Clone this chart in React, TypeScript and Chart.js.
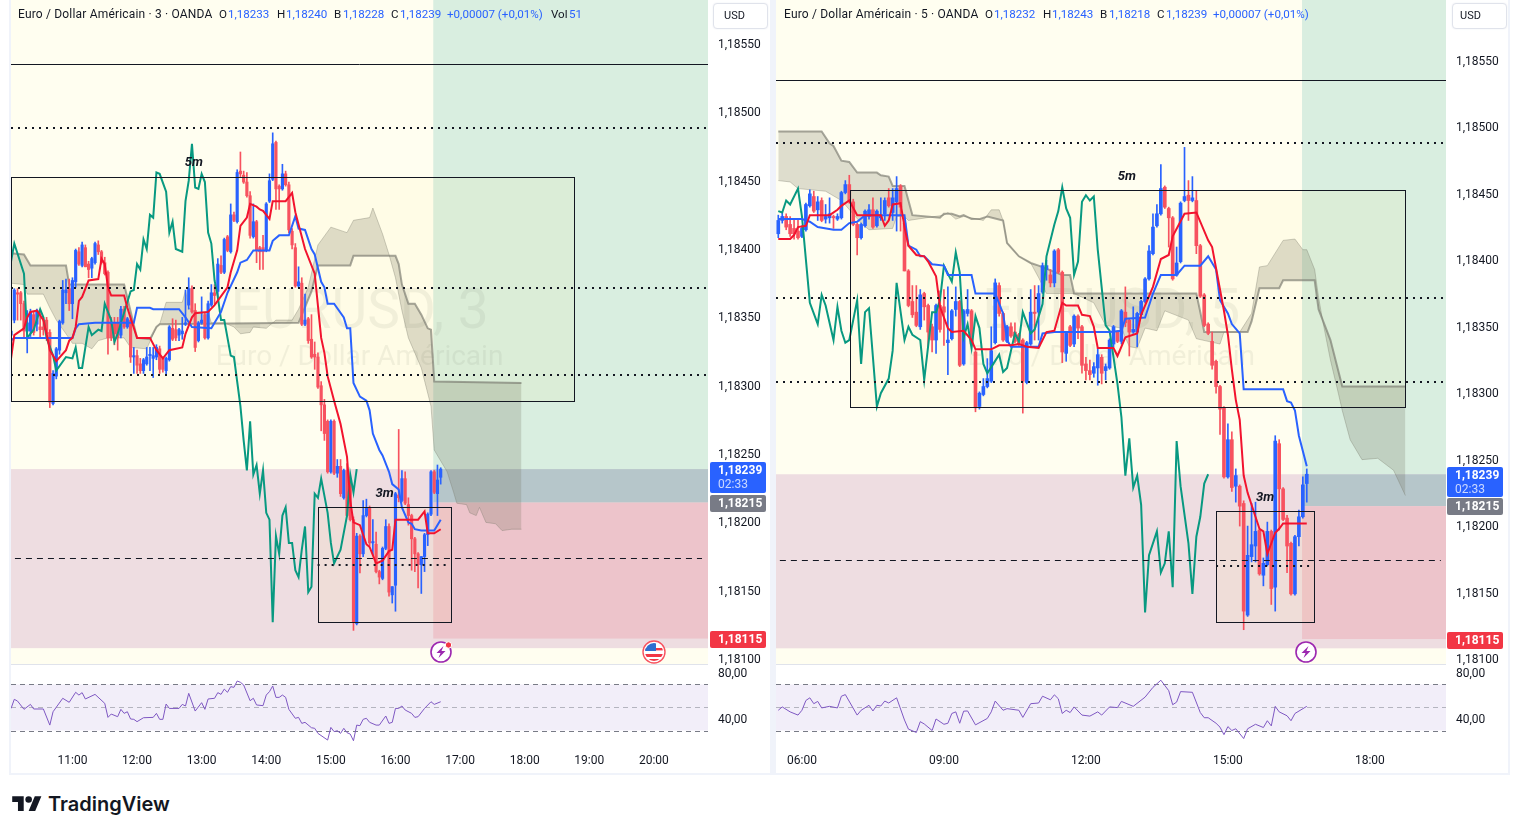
import React, { useEffect, useRef } from "react";
import { Chart, registerables } from "chart.js";

Chart.register(...registerables);

// All prices are in units of 0.00001 above 1,18000 (so 239 means 1,18239).
const leftPriceTicks = [550, 500, 450, 400, 350, 300, 250, 200, 150, 100];
const rightPriceTicks = [550, 500, 450, 400, 350, 300, 250, 200, 150, 100];
const rsiTicks = [80, 40];
const leftTimeTicks = [19, 39, 59, 79, 99, 119, 139, 159, 179, 199];
const leftTimeLabels = ["11:00", "12:00", "13:00", "14:00", "15:00", "16:00", "17:00", "18:00", "19:00", "20:00"];
const rightTimeTicks = [6, 42, 78, 114, 150];
const rightTimeLabels = ["06:00", "09:00", "12:00", "15:00", "18:00"];

// [open, high, low, close], one per 3-minute bar
const leftCandles = [
[337,355,335,340],[348,371,346,370],[368,371,348,367],[368,369,348,360],[360,362,335,340],[340,355,324,346],[340,356,336,354],[352,354,337,339],[345,356,340,355],[343,355,335,341],
[343,350,337,341],[348,350,333,338],[339,341,284,288],[287,311,286,309],[307,328,305,327],[326,348,323,347],[346,377,345,370],[368,378,360,370],[371,378,355,360],[360,379,349,377],
[376,400,372,399],[398,401,388,389],[388,405,387,403],[401,403,387,387],[389,391,379,385],[386,394,379,393],[390,405,389,404],[403,406,396,398],[398,399,389,390],[390,394,381,382],
[383,384,323,335],[346,350,333,335],[346,350,330,338],[346,350,326,335],[337,358,335,356],[356,358,342,343],[343,350,342,349],[348,349,317,321],[321,328,309,322],[322,326,309,315],
[316,320,309,311],[311,320,309,319],[316,328,315,321],[322,328,311,323],[320,328,306,322],[321,330,319,328],[327,329,309,312],[320,321,310,312],[311,321,308,320],[319,344,318,343],
[342,349,333,334],[341,348,333,335],[337,342,333,341],[338,350,334,340],[345,370,344,346],[359,379,356,371],[371,373,353,354],[355,360,325,328],[333,347,332,346],[346,365,345,348],
[352,353,334,335],[335,362,334,360],[359,374,358,368],[368,374,360,366],[369,393,365,389],[388,395,382,383],[383,408,382,407],[409,410,398,399],[398,433,397,425],[425,427,420,421],
[420,458,419,456],[457,471,453,455],[454,457,448,449],[449,456,438,439],[439,442,408,410],[409,433,408,420],[420,421,390,399],[401,402,385,398],[401,410,385,398],[399,434,398,433],
[435,455,434,450],[451,485,450,477],[478,479,429,444],[446,447,429,444],[444,462,443,455],[455,457,446,447],[447,449,412,414],[413,415,400,403],[401,404,372,373],[373,387,372,376],
[375,379,344,345],[345,367,344,348],[349,350,331,333],[334,352,320,321],[323,332,312,321],[321,324,298,299],[300,303,267,286],[286,290,260,265],[274,275,236,237],[237,275,236,274],
[274,275,235,236],[236,246,233,241],[241,246,219,221],[218,239,217,238],[238,243,204,205],[231,233,201,202],[202,204,121,127],[126,192,125,190],[190,191,163,177],[177,216,175,205],
[205,217,204,211],[211,212,183,185],[185,202,176,186],[184,193,163,164],[164,165,155,160],[159,182,158,181],[181,202,180,197],[197,199,146,149],[147,153,141,153],[154,222,135,221],
[220,268,215,218],[216,238,215,232],[232,237,213,214],[213,218,198,205],[205,206,165,188],[188,189,164,177],[177,178,152,169],[169,175,148,175],[175,192,164,191],[191,207,183,206],
[206,238,205,237],[237,238,221,222],[221,242,205,231],[233,240,228,239],
];

// [bar index, price]
const leftGreen = [[0,391],[1,404],[4,382],[5,335],[7,341],[9,356],[10,350],[11,335],[13,322],[14,311],[17,321],[19,320],[20,328],[21,313],[22,313],[24,343],[25,337],[27,341],[28,340],[29,360],[31,348],[32,332],[33,338],[37,369],[38,370],[39,389],[40,385],[41,407],[42,400],[43,425],[44,423],[45,456],[46,455],[48,442],[49,412],[50,420],[51,400],[53,398],[54,435],[55,450],[56,477],[57,445],[58,444],[59,455],[60,449],[61,412],[62,404],[63,377],[64,365],[65,348],[66,348],[68,322],[69,321],[71,285],[72,260],[73,238],[74,274],[75,235],[76,242],[77,221],[78,238],[79,207],[80,202],[81,127],[82,190],[83,177],[84,205],[85,211],[86,185],[87,185],[88,165],[89,160],[90,180],[91,197],[92,149],[93,153],[94,221],[95,218],[96,232],[98,207],[99,185],[100,170],[102,180],[104,205],[105,235],[106,222],[107,239]];
const leftRed = [[0,320],[1,337],[4,342],[5,350],[6,354],[8,355],[10,348],[11,338],[12,326],[14,318],[17,326],[18,333],[19,335],[20,343],[21,362],[22,365],[24,377],[27,378],[28,393],[29,389],[30,372],[31,366],[35,366],[36,357],[39,335],[43,335],[45,326],[47,320],[49,326],[53,328],[54,338],[56,350],[57,353],[61,354],[63,359],[67,372],[68,383],[70,399],[71,417],[73,423],[74,433],[76,431],[77,429],[78,428],[80,422],[81,435],[85,435],[87,441],[88,427],[91,400],[94,382],[96,335],[97,324],[98,307],[100,289],[102,272],[104,248],[105,216],[106,200],[108,198],[110,184],[111,182],[113,170],[115,172],[117,179],[118,180],[119,202],[126,202],[128,208],[129,192],[131,192],[133,195]];
const leftBlue = [[0,333],[1,335],[19,335],[20,342],[21,345],[26,346],[30,346],[38,346],[39,357],[43,357],[44,356],[52,356],[54,350],[56,343],[62,342],[63,346],[65,354],[67,368],[70,383],[71,390],[73,392],[75,399],[80,399],[81,406],[83,410],[86,410],[88,424],[89,415],[91,414],[93,400],[94,396],[96,376],[97,372],[98,360],[100,360],[103,350],[104,342],[105,342],[106,302],[108,292],[110,289],[111,282],[112,265],[114,253],[115,249],[117,237],[118,228],[120,224],[121,211],[123,200],[124,199],[125,195],[127,194],[131,194],[133,202]];
const leftSpanA = [[0,375],[4,374],[5,367],[10,367],[12,357],[14,348],[17,338],[19,331],[22,331],[25,327],[27,333],[30,335],[35,335],[37,328],[42,327],[45,343],[46,345],[48,361],[53,361],[54,370],[55,357],[57,354],[61,354],[62,346],[66,346],[69,343],[71,338],[74,339],[75,343],[79,342],[82,348],[87,348],[89,356],[92,372],[95,403],[99,416],[104,412],[106,421],[111,423],[112,430],[115,411],[117,396],[119,379],[121,355],[123,335],[127,313],[130,285],[131,253],[133,245],[135,237],[137,222],[138,214],[141,213],[142,207],[144,205],[145,211],[147,200],[150,199],[152,194],[155,195],[158,195]];
const leftSpanB = [[0,397],[4,396],[6,388],[17,388],[18,374],[35,374],[39,335],[43,334],[45,343],[46,345],[89,346],[93,369],[95,388],[105,388],[106,395],[119,395],[120,389],[121,374],[123,360],[125,360],[127,352],[129,342],[130,341],[131,303],[158,302]];
const leftRsi = [[0,49.2],[1,57.1],[2,55.6],[4,48.4],[6,52.7],[7,48.7],[10,48.7],[12,34.7],[13,46.3],[16,58],[18,54.5],[20,63.2],[21,60.8],[22,62.9],[23,57.4],[26,61.4],[29,53.6],[30,41.4],[31,44.3],[33,42],[34,48.4],[35,44.9],[36,46.3],[37,40],[38,39.7],[39,37.7],[41,41.1],[44,41.4],[45,44.9],[46,39.7],[47,39.7],[48,53],[49,49.2],[52,49.2],[53,52.7],[54,51.3],[55,62.3],[57,46.9],[59,54.2],[60,48.4],[61,57.4],[63,58],[64,62.9],[65,61.4],[66,66],[67,63.2],[68,68.1],[69,67.5],[70,73],[71,71.9],[72,69.6],[74,55.9],[75,58],[76,52.2],[78,51.6],[79,60.8],[80,63.8],[81,68.7],[82,58.8],[83,58.8],[84,60.8],[85,58.8],[86,48.4],[88,40.6],[89,41.4],[90,36.2],[91,37.1],[93,32.4],[94,31.9],[95,27.5],[98,21.7],[99,32.7],[100,29],[101,29.8],[102,27.5],[103,31.9],[104,28.1],[105,26.9],[106,21.1],[107,34.7],[108,34.2],[109,39.7],[110,40.6],[111,37.1],[113,34.7],[114,34.7],[116,42.6],[117,36.2],[118,37.1],[119,49.2],[120,49.2],[121,51.3],[122,47.8],[124,44.9],[125,41.4],[126,42],[128,49.2],[130,55],[131,52.7],[133,55]];

// [open, high, low, close], one per 5-minute bar
const rightCandles = [
[420,434,417,430],[430,436,428,433],[433,435,423,425],[427,433,418,420],[424,430,416,420],[422,430,416,417],[418,426,417,424],[423,443,422,442],[441,453,440,450],[448,452,436,437],
[438,448,430,444],[445,447,429,430],[431,442,428,433],[432,447,428,435],[433,434,424,432],[431,435,430,433],[432,452,431,451],[451,460,450,457],[457,464,443,444],[444,446,426,427],
[427,428,404,417],[417,428,416,427],[426,438,425,437],[433,442,431,438],[438,447,424,425],[426,438,425,437],[432,447,430,433],[435,447,430,445],[447,454,440,441],[436,454,430,447],
[444,463,422,454],[456,457,422,440],[428,430,392,392],[392,393,365,366],[369,381,357,359],[361,381,350,351],[350,378,348,374],[375,376,355,365],[366,367,335,346],[350,352,331,340],
[340,367,330,366],[366,377,346,348],[365,378,336,361],[338,380,314,340],[341,363,340,362],[363,380,358,369],[369,370,320,321],[322,363,321,362],[360,378,358,363],[362,363,336,337],
[331,332,286,289],[290,301,288,300],[299,311,298,305],[305,326,304,311],[309,350,308,332],[338,386,337,383],[381,383,358,360],[360,361,339,340],[339,351,338,350],[350,353,342,343],
[346,353,338,339],[344,345,336,337],[340,341,285,309],[308,339,307,338],[337,378,336,361],[361,381,340,360],[361,381,340,375],[376,398,375,396],[393,400,385,396],[389,393,380,383],
[383,408,380,407],[408,409,390,391],[391,392,323,331],[330,346,324,345],[350,351,335,336],[337,359,335,358],[358,359,341,349],[350,351,315,321],[322,327,310,317],[317,325,310,314],
[315,323,312,320],[319,334,306,329],[327,329,307,315],[317,322,310,320],[319,341,318,340],[337,351,335,350],[346,347,338,339],[339,363,337,362],[361,380,350,353],[355,356,328,346],
[346,365,345,348],[346,361,335,360],[359,370,358,369],[369,387,368,386],[386,411,385,407],[405,435,404,425],[426,442,425,435],[435,472,434,454],[455,456,439,440],[439,440,410,432],
[432,433,385,386],[389,410,388,398],[399,444,398,443],[445,485,444,448],[449,460,430,445],[445,463,444,447],[445,452,405,411],[411,412,372,373],[374,375,350,351],[352,353,344,345],
[339,346,318,321],[324,325,300,305],[305,306,269,288],[289,290,236,237],[237,277,236,265],[265,271,226,229],[230,243,218,238],[230,231,200,215],[217,219,122,136],[133,200,132,178],
[177,217,173,186],[185,218,173,196],[197,198,163,164],[163,176,155,172],[171,203,170,196],[196,197,141,153],[154,268,136,264],[262,265,197,228],[228,229,204,205],[206,208,165,185],
[187,188,148,149],[149,193,148,192],[192,212,185,207],[207,237,206,231],[232,243,218,239],
];
const rightGreen = [[0,437],[1,436],[2,445],[3,442],[5,454],[6,433],[8,368],[10,352],[11,374],[12,366],[14,340],[15,365],[16,347],[17,338],[18,340],[20,370],[21,322],[22,361],[23,364],[25,290],[26,300],[28,311],[29,332],[30,383],[32,340],[33,350],[34,344],[36,340],[37,310],[39,361],[40,361],[41,370],[42,396],[44,384],[45,406],[46,391],[47,342],[48,352],[49,334],[50,358],[51,349],[52,322],[53,315],[56,329],[57,316],[58,319],[60,345],[61,339],[62,361],[64,345],[65,348],[67,367],[68,403],[70,427],[71,437],[72,455],[73,439],[74,432],[75,389],[76,399],[77,444],[78,449],[79,445],[80,448],[81,408],[83,351],[84,347],[86,307],[87,282],[88,238],[89,266],[90,229],[91,238],[92,216],[93,135],[94,178],[96,196],[97,165],[98,172],[99,196],[100,154],[101,264],[102,230],[104,187],[105,149],[106,192],[107,207],[108,232],[109,239]];
const rightRed = [[0,416],[3,416],[4,419],[5,425],[7,426],[8,434],[13,434],[15,438],[16,441],[18,445],[20,434],[26,434],[27,426],[28,430],[29,442],[31,443],[32,425],[33,411],[35,404],[37,403],[38,399],[40,388],[41,365],[43,349],[44,346],[47,347],[49,340],[50,333],[54,333],[56,336],[59,336],[61,337],[63,335],[66,334],[68,346],[70,347],[72,368],[73,366],[76,366],[77,359],[79,358],[80,350],[81,334],[85,334],[86,328],[88,342],[91,345],[92,359],[95,380],[97,401],[99,404],[100,418],[103,435],[106,436],[109,415],[110,410],[113,362],[114,344],[115,318],[116,295],[117,280],[118,238],[119,225],[121,207],[122,198],[123,196],[124,179],[126,195],[127,198],[128,202],[134,202]];
const rightBlue = [[0,431],[6,431],[8,429],[10,425],[14,423],[16,423],[18,428],[20,429],[22,434],[32,434],[33,411],[35,408],[36,403],[37,403],[39,397],[42,396],[43,389],[49,389],[50,375],[55,375],[57,360],[58,340],[59,335],[66,335],[67,345],[70,346],[84,346],[87,347],[88,356],[93,357],[95,375],[97,389],[101,389],[103,396],[107,396],[109,403],[111,393],[112,370],[114,360],[115,352],[117,345],[118,303],[128,303],[129,294],[130,293],[131,287],[132,268],[134,245]];
const rightSpanA = [[0,460],[3,459],[5,454],[12,452],[16,445],[21,428],[23,423],[29,424],[30,433],[32,433],[33,430],[42,434],[43,436],[45,431],[47,433],[49,432],[52,430],[54,438],[56,438],[57,430],[58,413],[61,403],[64,398],[66,387],[68,375],[75,375],[80,368],[83,351],[87,349],[89,335],[91,334],[93,349],[96,347],[98,362],[104,355],[106,341],[109,339],[112,337],[113,346],[117,346],[120,360],[122,395],[124,396],[128,415],[131,416],[133,408],[134,408],[136,393],[137,372],[138,355],[140,325],[142,300],[143,287],[145,265],[148,250],[152,251],[156,242],[159,223]];
const rightSpanB = [[0,497],[11,497],[13,488],[14,486],[16,475],[18,474],[20,466],[25,466],[26,464],[28,463],[29,456],[32,456],[33,445],[34,434],[41,432],[42,435],[44,435],[46,433],[47,434],[49,431],[51,431],[53,433],[57,430],[58,413],[61,403],[64,398],[66,396],[72,389],[74,389],[75,375],[106,375],[107,361],[108,346],[119,346],[120,354],[122,379],[127,379],[128,385],[136,385],[137,363],[140,340],[143,305],[159,305]];
const rightRsi = [[0,47.6],[1,50.5],[3,46.2],[5,43.4],[6,47.6],[7,56.1],[8,58.4],[9,53.3],[10,55.3],[11,49.6],[13,51],[15,49.6],[16,59.8],[17,61.2],[20,43.4],[21,47.6],[23,51.9],[24,47],[25,51.9],[26,51.3],[27,55.6],[28,53.9],[30,58.4],[32,39.1],[33,31.2],[35,28.3],[36,37.7],[37,35.7],[39,30],[40,40],[42,35.4],[43,36.3],[44,44.8],[45,46.2],[46,36.3],[47,46.8],[48,47],[50,34.9],[53,40.5],[54,46.2],[55,55.6],[57,47.6],[58,49],[61,47.6],[62,41.4],[64,53.3],[66,53.9],[67,59.8],[69,56.7],[70,61],[71,57.6],[72,44.8],[73,47.6],[74,45.6],[75,50.5],[77,43.4],[79,42.5],[81,46.2],[82,43.4],[84,50.5],[86,49.9],[87,55.3],[90,51],[93,59],[95,67.5],[97,73.7],[99,64.6],[100,52.4],[101,54.7],[102,63.8],[105,63.2],[107,45.6],[108,41.1],[109,41.1],[111,36.3],[112,32.9],[113,26.4],[114,33.4],[115,30],[116,31.5],[118,23],[119,31.5],[121,35.4],[123,32.6],[124,38.5],[125,34],[126,51],[127,46.2],[129,42.8],[130,38.5],[131,44.8],[134,51]];

const rsiLevels = [70, 50, 30];

type Pair = number[];
interface PanelCfg {
  candles: number[][]; green: Pair[]; red: Pair[]; blue: Pair[]; spanA: Pair[]; spanB: Pair[]; rsi: Pair[];
  priceTicks: number[]; timeTicks: number[]; timeLabels: string[];
  xMin: number; xMax: number; yTop: number; yBottom: number;
  bodyWidth: number;
  entry: number; entryPrice: number; stopPrice: number; bottomPrice: number; rosePrice: number; midPrice: number;
  bigBox: number[]; smallBox: number[]; solid: number; dotted: number[]; dashed: number[]; boxDotted: number;
  big5: number[]; small3: number[]; mark: string; markX: number; markY: number[];
}

const leftCfg: PanelCfg = {
  candles: leftCandles, green: leftGreen, red: leftRed, blue: leftBlue, spanA: leftSpanA, spanB: leftSpanB, rsi: leftRsi,
  priceTicks: leftPriceTicks, timeTicks: leftTimeTicks, timeLabels: leftTimeLabels,
  xMin: -0.02, xMax: 215.75, yTop: 582.2, yBottom: 96.4, bodyWidth: 2.5,
  entry: 130.7, entryPrice: 239, stopPrice: 115, bottomPrice: 108, rosePrice: 239, midPrice: 214.5,
  bigBox: [-0.02, 174.3, 452.7, 288.8], smallBox: [94.9, 136, 211, 127], solid: 535.4, dotted: [488.5, 371.5, 307.8], dashed: [174, 1.2, 213.9], boxDotted: 169,
  big5: [56.6, 463], small3: [115.6, 220.7], mark: "EURUSD, 3", markX: 107.9, markY: [352, 320],
};
const rightCfg: PanelCfg = {
  candles: rightCandles, green: rightGreen, red: rightRed, blue: rightBlue, spanA: rightSpanA, spanB: rightSpanB, rsi: rightRsi,
  priceTicks: rightPriceTicks, timeTicks: rightTimeTicks, timeLabels: rightTimeLabels,
  xMin: -0.58, xMax: 169.3, yTop: 595.9, yBottom: 96.2, bodyWidth: 3,
  entry: 132.8, entryPrice: 239, stopPrice: 115, bottomPrice: 108, rosePrice: 239, midPrice: 215,
  bigBox: [18.2, 158.9, 453, 289.6], smallBox: [111, 135.8, 211.4, 127.9], solid: 535.7, dotted: [488.3, 371.7, 308.4], dashed: [174.5, 0.4, 168], boxDotted: 170,
  big5: [88.4, 462.7], small3: [123.4, 221], mark: "EURUSD, 5", markX: 84.4, markY: [359.5, 326.5],
};

const BLUE = "#2962ff";
const RED = "#f7525f";
const FONT = "Roboto, 'Open Sans', sans-serif";
const toXY = (p: Pair[]) => p.map(([x, y]) => ({ x, y }));

function panelPlugin(c: PanelCfg) {
  return {
    id: "panel",
    beforeDatasetsDraw(chart: any) {
      const { ctx, scales } = chart;
      const x = scales.x, y = scales.y, r = scales.yRsi;
      const rect = (i0: number, i1: number, p0: number, p1: number, col: string) => {
        const a = x.getPixelForValue(i0), b = x.getPixelForValue(i1), t = y.getPixelForValue(p0), u = y.getPixelForValue(p1);
        ctx.fillStyle = col;
        ctx.fillRect(a, t, b - a, u - t);
      };
      ctx.save();
      rect(c.xMin, c.xMax, c.yTop, c.yBottom, "#fffef0");
      rect(c.xMin, c.xMax, c.rosePrice, c.bottomPrice, "#eeddE1");
      rect(c.entry, c.xMax, c.yTop, c.entryPrice, "#d9eee0");
      rect(c.entry, c.xMax, c.entryPrice, c.midPrice, "#b6c6ca");
      rect(c.entry, c.xMax, c.midPrice, c.stopPrice, "#edc4cb");
      rect(c.bigBox[0], c.bigBox[1], c.bigBox[2], c.bigBox[3], "rgba(255,214,90,0.06)");
      rect(c.smallBox[0], c.smallBox[1], c.smallBox[2], c.smallBox[3], "rgba(255,214,90,0.06)");
      // watermark
      ctx.textAlign = "center";
      ctx.textBaseline = "middle";
      ctx.fillStyle = "rgba(120,123,110,0.1)";
      ctx.font = `55px ${FONT}`;
      ctx.fillText(c.mark, x.getPixelForValue(c.markX), y.getPixelForValue(c.markY[0]));
      ctx.font = `28px ${FONT}`;
      ctx.fillText("Euro / Dollar Américain", x.getPixelForValue(c.markX), y.getPixelForValue(c.markY[1]));
      // RSI band
      const t = r.getPixelForValue(rsiLevels[0]), b = r.getPixelForValue(rsiLevels[2]);
      ctx.fillStyle = "rgba(126,87,194,0.1)";
      ctx.fillRect(x.left, t, x.right - x.left, b - t);
      rsiLevels.forEach((lv, k) => {
        ctx.beginPath();
        ctx.setLineDash([5, 4]);
        ctx.lineWidth = 1;
        ctx.strokeStyle = k === 1 ? "rgba(120,123,134,0.5)" : "#787b86";
        const py = Math.round(r.getPixelForValue(lv)) + 0.5;
        ctx.moveTo(x.left, py);
        ctx.lineTo(x.right, py);
        ctx.stroke();
      });
      ctx.setLineDash([]);
      // pane separator
      ctx.fillStyle = "#e0e3eb";
      ctx.fillRect(x.left, y.bottom, x.right - x.left, 1);
      ctx.restore();
    },
    afterDatasetsDraw(chart: any) {
      const { ctx, scales } = chart;
      const x = scales.x, y = scales.y;
      const hline = (p: number, i0: number, i1: number, w: number, dash: number[]) => {
        const py = Math.round(y.getPixelForValue(p)) + (w === 1 ? 0.5 : 0);
        ctx.beginPath();
        ctx.lineWidth = w;
        ctx.setLineDash(dash);
        ctx.strokeStyle = "#131722";
        ctx.moveTo(x.getPixelForValue(i0), py);
        ctx.lineTo(x.getPixelForValue(i1), py);
        ctx.stroke();
      };
      const box = (v: number[]) => {
        const a = x.getPixelForValue(v[0]), b = x.getPixelForValue(v[1]), t = y.getPixelForValue(v[2]), u = y.getPixelForValue(v[3]);
        ctx.setLineDash([]);
        ctx.lineWidth = 1;
        ctx.strokeStyle = "#131722";
        ctx.strokeRect(Math.round(a) + 0.5, Math.round(t) + 0.5, Math.round(b - a), Math.round(u - t));
      };
      ctx.save();
      hline(c.solid, c.xMin, c.xMax, 1, []);
      c.dotted.forEach((p) => hline(p, c.xMin, c.xMax, 2, [2, 5]));
      hline(c.dashed[0], c.dashed[1], c.dashed[2], 1, [6, 5]);
      hline(c.boxDotted, c.smallBox[0], c.smallBox[1], 2, [2, 5]);
      box(c.bigBox);
      box(c.smallBox);
      ctx.setLineDash([]);
      ctx.fillStyle = "#131722";
      ctx.textAlign = "center";
      ctx.textBaseline = "middle";
      ctx.font = `italic bold 13px ${FONT}`;
      ctx.fillText("5m", x.getPixelForValue(c.big5[0]), y.getPixelForValue(c.big5[1]));
      ctx.fillText("3m", x.getPixelForValue(c.small3[0]), y.getPixelForValue(c.small3[1]));
      ctx.restore();
    },
  };
}

const fitY = (s: any) => { s.width = 62; s.paddingTop = 0; s.paddingBottom = 0; };

function Panel({ cfg, left, width }: { cfg: PanelCfg; left: number; width: number }) {
  const ref = useRef<HTMLCanvasElement>(null);
  useEffect(() => {
    const c = cfg;
    const wicks = c.candles.map((k, i) => ({ x: i, y: [k[2], k[1]] }));
    const bodies = c.candles.map((k, i) => ({ x: i, y: [Math.min(k[0], k[3]), Math.max(k[0], k[3])] }));
    const colors = c.candles.map((k) => (k[3] >= k[0] ? BLUE : RED));
    const line = (data: Pair[], color: string, w: number, order: number, extra: any = {}) => ({
      type: "line", data: toXY(data), borderColor: color, borderWidth: w, pointRadius: 0, tension: 0, order,
      xAxisID: "x", yAxisID: "y", fill: false, ...extra,
    });
    const chart = new Chart(ref.current as any, {
      type: "line",
      data: {
        datasets: [
          line(c.spanA, "rgba(120,120,105,0.35)", 1, 9, { fill: { target: "+1", above: "rgba(105,105,80,0.22)", below: "rgba(105,105,80,0.22)" } }),
          line(c.spanB, "rgba(115,115,105,0.62)", 2, 8),
          { type: "bar", data: wicks, backgroundColor: colors, barThickness: 1, grouped: false, order: 6, xAxisID: "x", yAxisID: "y" },
          { type: "bar", data: bodies, backgroundColor: colors, barThickness: c.bodyWidth, grouped: false, order: 5, xAxisID: "x", yAxisID: "y" },
          line(c.green, "#089981", 2, 4),
          line(c.blue, BLUE, 2, 3),
          line(c.red, "#f2132e", 2, 2),
          line(c.rsi, "#7e57c2", 1, 1, { yAxisID: "yRsi" }),
        ] as any,
      },
      options: {
        animation: false,
        responsive: false,
        devicePixelRatio: 1,
        layout: { padding: 0 },
        events: [],
        plugins: { legend: { display: false }, tooltip: { enabled: false } },
        scales: {
          x: {
            type: "linear", min: c.xMin, max: c.xMax, offset: false, position: "bottom",
            grid: { display: false, offset: false, drawTicks: false }, border: { display: false },
            afterFit: (s: any) => { s.height = 29; },
            afterBuildTicks: (s: any) => { s.ticks = c.timeTicks.map((value) => ({ value })); },
            ticks: {
              autoSkip: false, maxRotation: 0, padding: 9, color: "#131722", font: { family: FONT, size: 12 },
              callback: (v: any) => c.timeLabels[c.timeTicks.indexOf(v)] ?? "",
            },
          },
          y: {
            type: "linear", position: "right", stack: "p", stackWeight: 664, weight: 0, min: c.yBottom, max: c.yTop,
            grid: { display: false, drawTicks: false }, border: { display: false },
            afterFit: fitY,
            afterBuildTicks: (s: any) => { s.ticks = c.priceTicks.map((value) => ({ value })); },
            ticks: { padding: 10, labelOffset: 1, color: "#131722", font: { family: FONT, size: 12 }, callback: (v: any) => `1,18${v}` },
          },
          yRsi: {
            type: "linear", position: "right", stack: "p", stackWeight: 81, weight: 1, min: 17.4, max: 87.8,
            grid: { display: false, drawTicks: false }, border: { display: false },
            afterFit: fitY,
            afterBuildTicks: (s: any) => { s.ticks = rsiTicks.map((value) => ({ value })); },
            ticks: { padding: 10, labelOffset: 1, color: "#131722", font: { family: FONT, size: 12 }, callback: (v: any) => `${v},00` },
          },
        },
      } as any,
      plugins: [panelPlugin(c)] as any,
    });
    return () => chart.destroy();
  }, [cfg]);
  return <canvas ref={ref} width={width} height={774} style={{ position: "absolute", left, top: 0, width, height: 774 }} />;
}

const abs = (left: number, top: number, style: any = {}) => ({ position: "absolute", left, top, whiteSpace: "nowrap", ...style });

function Header({ dx, name, o, h, b, cl, vol }: { dx: number; name: string; o: string; h: string; b: string; cl: string; vol?: string }) {
  const dark = "#131722";
  const txt = (x: number, s: string, color: string, extra: any = {}) => (
    <span style={abs(x + dx, 6, { color, fontSize: 11.6, lineHeight: "16px", fontFamily: FONT, ...extra }) as any}>{s}</span>
  );
  return (
    <>
      {txt(18, name, dark, { fontSize: 12, letterSpacing: 0.18 })}
      {txt(219, "O", dark)}{txt(228, o, BLUE)}
      {txt(277, "H", dark)}{txt(286, h, BLUE)}
      {txt(334, "B", dark)}{txt(343, b, BLUE)}
      {txt(391, "C", dark)}{txt(400, cl, BLUE)}
      {txt(447, "+0,00007 (+0,01%)", BLUE)}
      {vol ? <>{txt(551, "Vol", dark)}{txt(569, vol, BLUE)}</> : null}
    </>
  );
}

function Tag({ left, top, h, bg, text, sub, tx }: { left: number; top: number; h: number; bg: string; text: string; sub?: string; tx: number }) {
  return (
    <div style={abs(left, top, { width: 56, height: h, background: bg, borderRadius: 2, color: "#fff", fontFamily: FONT, fontSize: 12, fontWeight: 700 }) as any}>
      <div style={abs(tx, 1, { lineHeight: "14px" }) as any}>{text}</div>
      {sub ? <div style={abs(tx, 15, { lineHeight: "14px", fontWeight: 400, color: "rgba(255,255,255,0.75)" }) as any}>{sub}</div> : null}
    </div>
  );
}

function Bolt({ cx, cy, dot }: { cx: number; cy: number; dot?: boolean }) {
  return (
    <svg width={26} height={26} viewBox="0 0 26 26" style={abs(cx - 13, cy - 13) as any}>
      <circle cx={13} cy={13} r={10} fill="#fff" stroke="#9c27b0" strokeWidth={1.6} />
      <path d="M15.5 7 L8.5 14 H12.5 L10.5 19 L17.5 12 H13.5 Z" fill="#9c27b0" />
      {dot ? <circle cx={20.5} cy={6} r={3.2} fill="#f23645" stroke="#fff" strokeWidth={1} /> : null}
    </svg>
  );
}

function Flag({ cx, cy }: { cx: number; cy: number }) {
  return (
    <svg width={26} height={26} viewBox="0 0 26 26" style={abs(cx - 13, cy - 13) as any}>
      <defs><clipPath id="fl"><circle cx={13} cy={13} r={9} /></clipPath></defs>
      <circle cx={13} cy={13} r={11} fill="#fff" stroke="#f7525f" strokeWidth={1.4} />
      <g clipPath="url(#fl)">
        <rect x={3} y={3} width={20} height={20} fill="#fff" />
        <rect x={3} y={15} width={20} height={3} fill="#f23645" />
        <rect x={3} y={20} width={20} height={3} fill="#f23645" />
        <rect x={3} y={9} width={20} height={2.4} fill="#f23645" />
        <rect x={3} y={4} width={12} height={8} fill="#2f6fd0" />
      </g>
    </svg>
  );
}

function Usd({ left, tx }: { left: number; tx: number }) {
  return (
    <div style={abs(left, 3, { width: 53, height: 24, border: "1px solid #e0e3eb", borderRadius: 4, background: "#fff", boxShadow: "0 0 2px #eceef2" }) as any}>
      <span style={abs(tx, 5, { fontFamily: FONT, fontSize: 11, color: "#131722", lineHeight: "14px" }) as any}>USD</span>
    </div>
  );
}

export default function App() {
  useEffect(() => { document.body.style.margin = "0"; document.body.style.background = "#fff"; }, []);
  const frame = "#f0f3fa";
  return (
    <div style={{ position: "relative", width: 1518, height: 834, overflow: "hidden", background: "#fff" }}>
      <div style={abs(9, 0, { width: 2, height: 775, background: frame }) as any} />
      <div style={abs(770, 0, { width: 6, height: 775, background: frame }) as any} />
      <div style={abs(1508, 0, { width: 2, height: 775, background: frame }) as any} />
      <div style={abs(9, 773, { width: 1501, height: 2, background: frame }) as any} />
      <Panel cfg={leftCfg} left={11} width={759} />
      <Panel cfg={rightCfg} left={776} width={732} />
      <Header dx={0} name="Euro / Dollar Américain · 3 · OANDA" o="1,18233" h="1,18240" b="1,18228" cl="1,18239" vol="51" />
      <Header dx={766} name="Euro / Dollar Américain · 5 · OANDA" o="1,18232" h="1,18243" b="1,18218" cl="1,18239" />
      <Usd left={713} tx={10} />
      <Usd left={1452} tx={7} />
      <Tag left={710} top={462} h={31} bg={BLUE} text="1,18239" sub="02:33" tx={8} />
      <Tag left={710} top={495} h={17} bg="#787b86" text="1,18215" tx={8} />
      <Tag left={710} top={631} h={17} bg="#f23645" text="1,18115" tx={8} />
      <Tag left={1447} top={467} h={30} bg={BLUE} text="1,18239" sub="02:33" tx={8} />
      <Tag left={1447} top={498} h={17} bg="#787b86" text="1,18215" tx={8} />
      <Tag left={1447} top={632} h={17} bg="#f23645" text="1,18115" tx={8} />
      <Bolt cx={441} cy={652} dot />
      <Flag cx={654} cy={652} />
      <Bolt cx={1306} cy={652} />
      <svg width={30} height={23} viewBox="0 0 36 28" style={abs(12, 793) as any}>
        <path d="M14 22H7V11H0V4h14v18zM28 22h-8l7.5-18h8L28 22z" fill="#131722" />
        <circle cx={20} cy={8} r={4} fill="#131722" />
      </svg>
      <span style={abs(48, 791, { fontFamily: "Inter, Roboto, sans-serif", fontWeight: 600, fontSize: 20, lineHeight: "26px", color: "#131722" }) as any}>TradingView</span>
    </div>
  );
}
